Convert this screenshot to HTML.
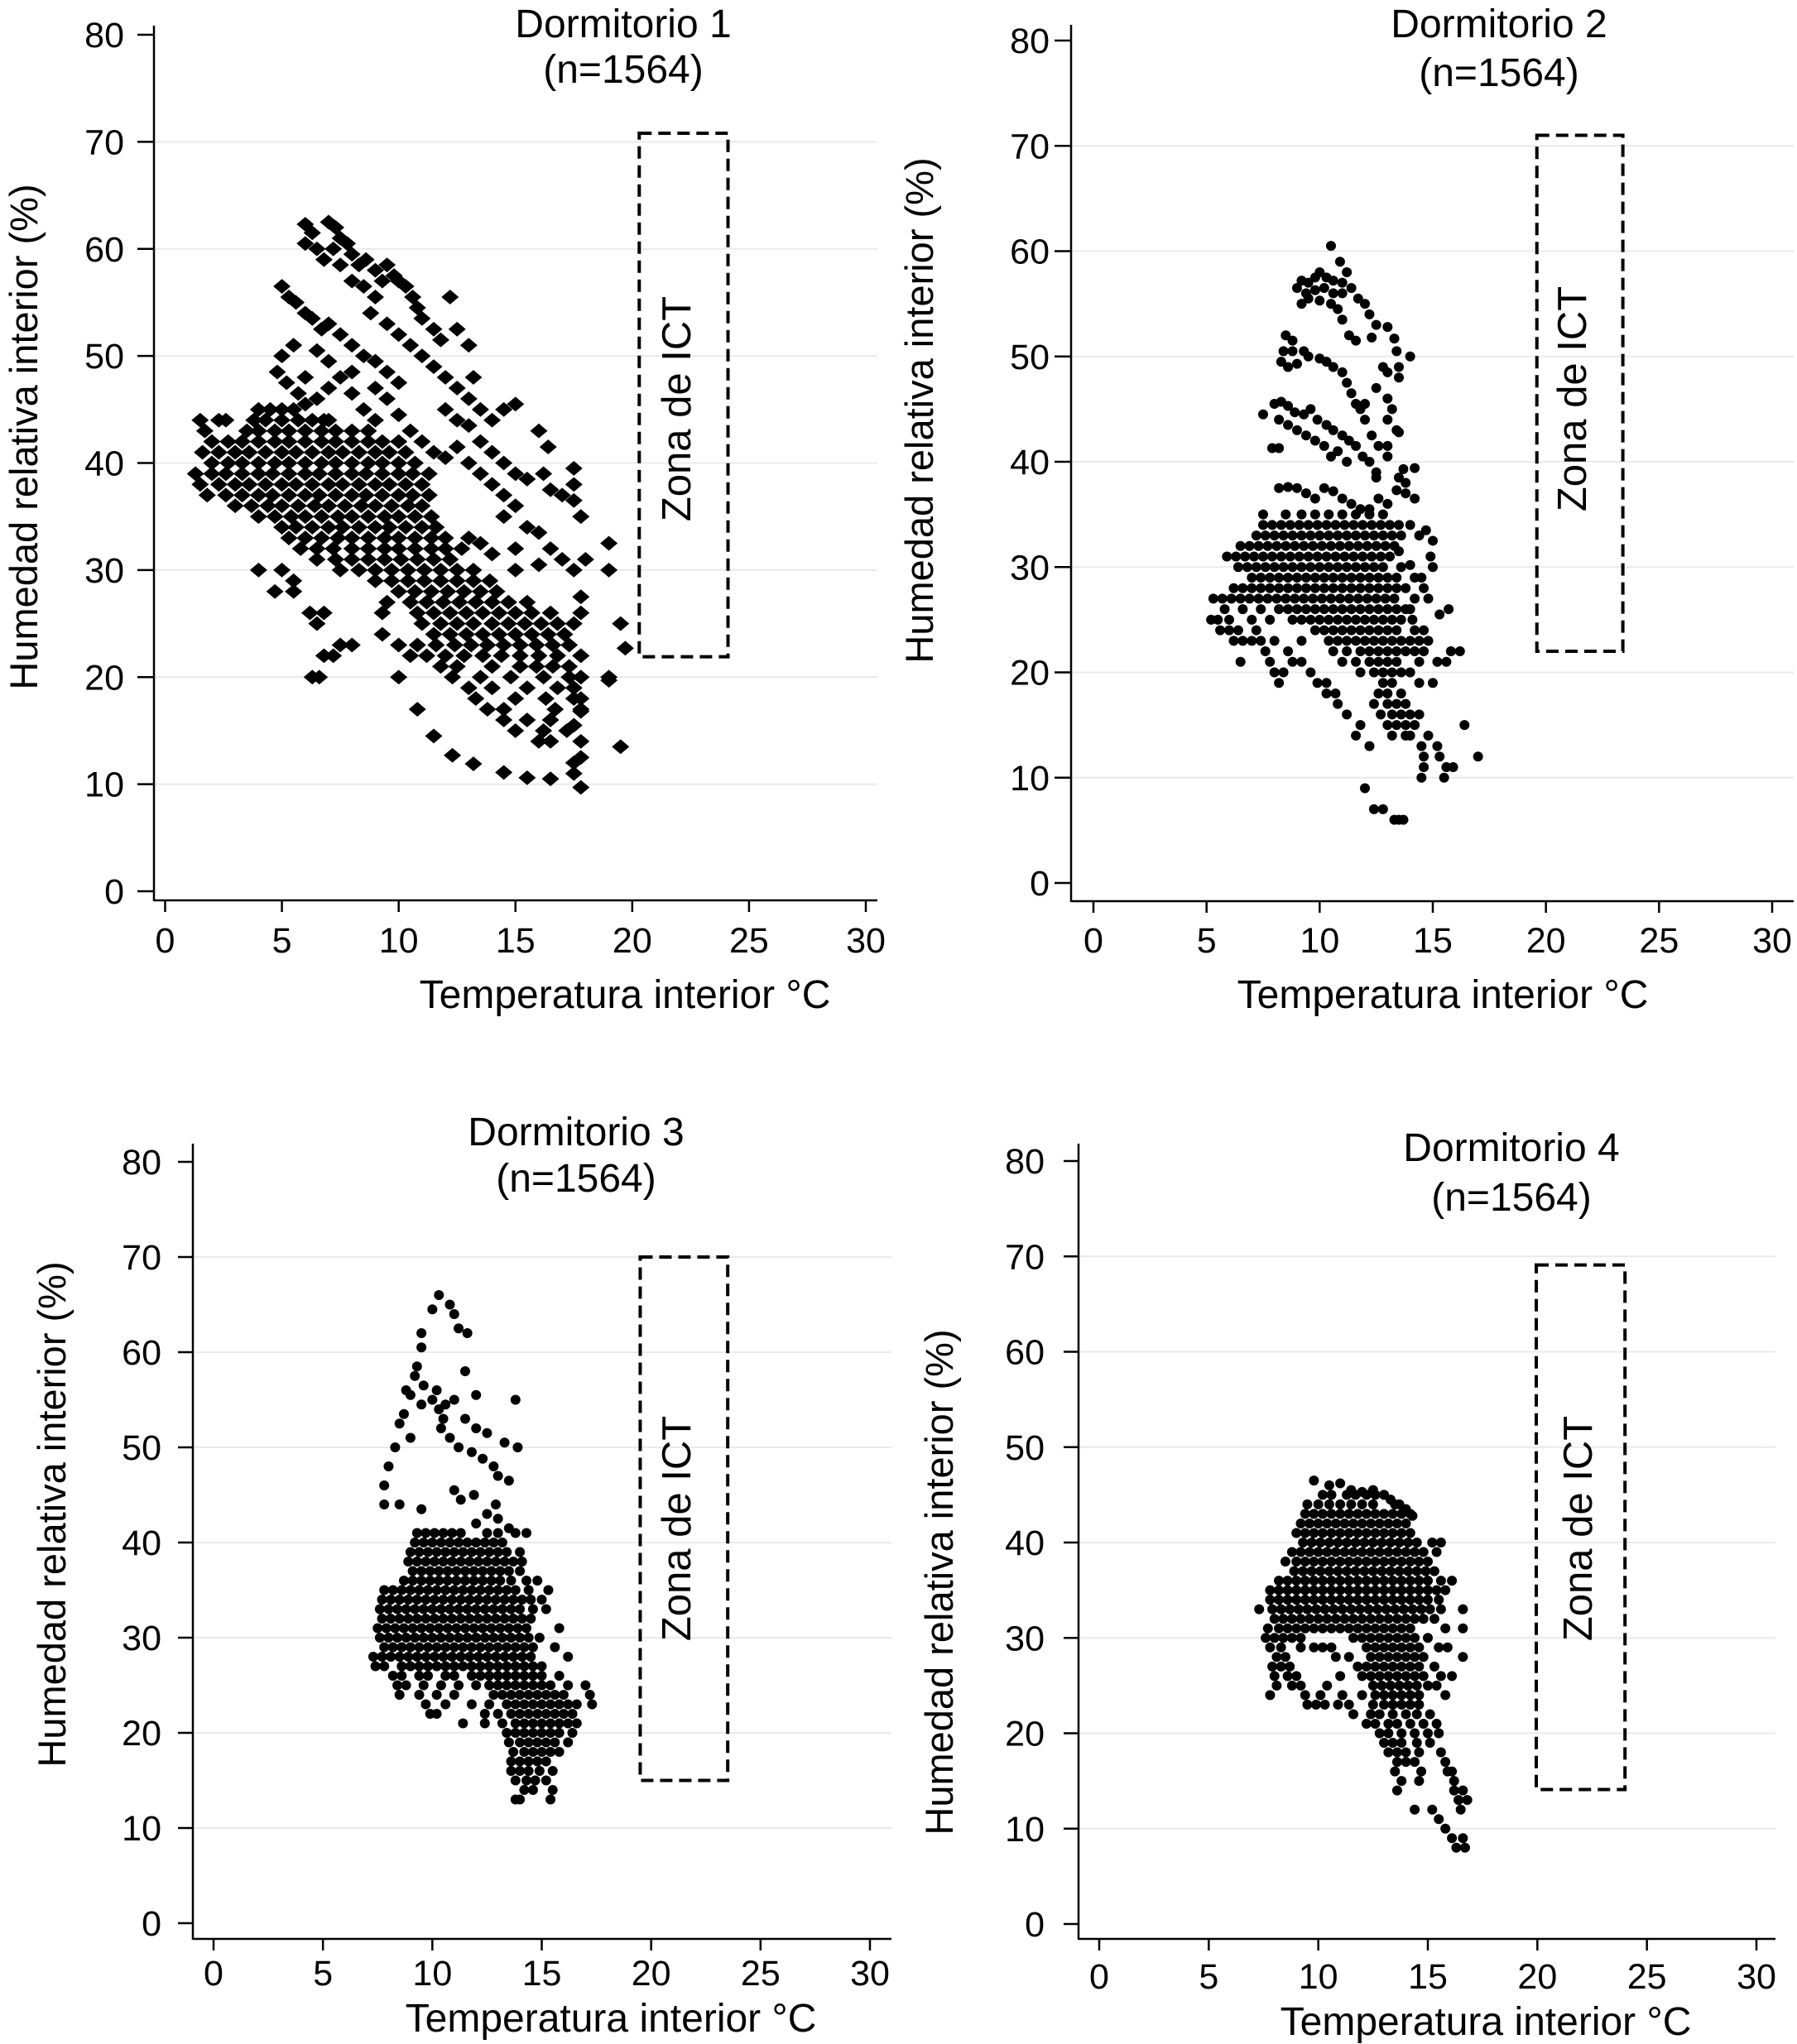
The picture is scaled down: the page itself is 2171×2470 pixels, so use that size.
<!DOCTYPE html>
<html><head><meta charset="utf-8"><style>
html,body{margin:0;padding:0;background:#fff;}
svg{display:block;font-family:"Liberation Sans",Arial,sans-serif;}
</style></head><body>
<svg id="chart" width="2171" height="2470" viewBox="0 0 2171 2470" xmlns="http://www.w3.org/2000/svg"></svg>
<script>
// ---- data ----
const xTicks = [0,5,10,15,20,25,30];
const yTicks = [0,10,20,30,40,50,60,70,80];
const panelTitles = ["Dormitorio 1","Dormitorio 2","Dormitorio 3","Dormitorio 4"];
const panelN = ["(n=1564)","(n=1564)","(n=1564)","(n=1564)"];
const ictX = [[20.3,24.1],[19.6,23.4],[19.5,23.5],[19.95,24.0]];
const ictY = [[21.9,70.8],[22.0,71.0],[15.0,70.0],[14.1,69.1]];

// rows: [humidity, [temperatures...]]
const rows1 = [
[45,[4,4.5,5,5.5]],[44,[1.5,2.3,2.6,3.8,4.3,5,5.7,6.3,7]],[43,[1.7,3.5,4,4.7,5.3,6,6.7,7.3,8,8.7]],
[42,[2,2.7,3.3,4,4.7,5.3,6,6.7,7.3,8,8.7,9.3,10]],[41,[1.6,2.3,3,3.6,4.3,5,5.6,6.3,7,7.6,8.3,9,9.6,10.3]],
[40,[2,2.7,3.3,4,4.7,5.3,6,6.7,7.3,8,8.7,9.3,10,10.7]],[39,[1.3,2,2.6,3.3,4,4.6,5.3,6,6.6,7.3,8,8.6,9.3,10,10.6,11.3]],
[38,[1.5,2.3,3,3.6,4.3,5,5.6,6.3,7,7.6,8.3,9,9.6,10.3,11]],[37,[1.8,2.6,3.3,4,4.6,5.3,6,6.6,7.3,8,8.6,9.3,10,10.6,11.3]],
[36,[3,3.7,4.4,5,5.7,6.4,7,7.7,8.4,9,9.7,10.4,11]],[35,[4,4.7,5.4,6,6.7,7.4,8,8.7,9.4,10,10.7,11.4]],
[34,[5,5.6,6.3,7,7.6,8.3,9,9.6,10.3,11,11.6]],[33,[5.3,6,6.7,7.4,8,8.7,9.4,10,10.7,11.4,12]],
[32,[5.8,6.5,7.2,8,8.7,9.4,10,10.7,11.4,12,12.7]],[31,[6.5,7.3,8,8.7,9.4,10.1,10.8,11.5,12.2]],
[30,[4,5,7.5,8.3,9,9.7,10.4,11.1,11.8,12.5,13.2]],[29,[5.5,9,9.7,10.4,11.1,11.8,12.5,13.2,13.9]],
[28,[4.7,5.5,10,10.7,11.4,12.1,12.8,13.5,14.2]],[27,[9.5,10.5,11.2,11.9,12.6,13.3,14,14.7,15.5]],
[26,[6.2,6.8,9.3,10.8,11.5,12.2,12.9,13.6,14.3,15,15.7,16.5]],[25,[6.5,11,11.8,12.5,13.2,14,14.7,15.4,16.1,16.8,17.5]],
[24,[9.3,11.5,12.2,12.9,13.6,14.3,15,15.7,16.4,17.1]],[23,[7.5,8,10,10.8,11.6,12.4,13.1,13.8,14.5,15.2,15.9,16.6,17.3]],
[22,[6.8,7.2,10.5,11.2,12,12.8,13.6,14.4,15.2,16,16.8,17.8]],[21,[11.8,12.5,14,15.2,15.9,16.6,17.3]],
[20,[6.3,6.6,10,12.3,13.5,14.8,16.2,17.3,17.8,19]],[19,[13,14,15.5,16.8,17.5]],[18,[13.3,15,16.3,17.5]],
[17,[10.8,13.8,14.5,16.7,17.8]],[16,[14.5,15.5,16.5]],[15,[15,16.2,17.2]],[14,[16,16.5]]
];
const extra1 = [[6,62.3],[6.3,61.5],[6,60.5],[6.5,60],[7,62.5],[7.3,62],[7.5,61],[7.2,60],[7.8,60.5],[8,59.5],[8.3,58.5],[8.6,59],[9,58],[9.5,58.5],[9.8,57.5],[10,57],[10.3,56.5],[10.6,55.5],[10.8,54.5],[11,53.5],[11.5,52.5],[11.8,51.5],[12.2,55.5],[6.8,59],[7.5,58.5],[8,57],[8.5,56.5],[9,55.5],[9.3,57],[8.8,54],[9.5,53],[10,52],[10.5,51],[11,50],[11.5,49],[12,48],[12.5,47],[13,46],[13.5,45],[14,44],[12.5,52.5],[13,51],[13.2,48],[14.5,45],[15,45.5],[16,43],[16.4,41.5],
[5,56.5],[5.3,55.5],[5.6,55],[6,54],[6.3,53.5],[6.7,52.5],[7,53],[7.5,52],[8,51],[8.5,50],[9,49.5],[9.5,48.5],[10,47.5],[6.5,50.5],[5.5,51],[5,50],[4.8,48.5],[5.2,47.5],[5.7,46.5],[6,45.5],[6.5,46],[7,47],[7.5,48],[8,46.5],[8.5,45],[9,44],[9.5,46],[10,44.5],[10.5,43],[11,42],[11.5,41],[12,40.5],[12.5,41.5],[13,40],[13.5,39],[14,38],[14.5,37],[7,49.5],[8,48.5],[9,47],[6,48],[6.8,44],
[12,45],[12.5,44],[13,43.5],[13.5,42],[14,41],[14.5,40],[15,39],[15.5,38.5],[16.2,39],[17.5,39.5],[17.5,38],[17,37],[17.5,36.5],[17.8,35],[16.5,37.5],[15,36],[14.5,35],[13,33],[13.5,32.5],[14,31.5],[15,32],[15.5,34],[16,33.5],[16.5,32],[17,31],[17.5,30],[18,31],[16,30.5],[15,30],[17.8,27.5],[17.8,26],[17.8,22],[17.8,20],[17.8,18],[17.8,16.8],[17.8,14],[17.8,12.5],[17.5,12],[17.5,11],[11.5,14.5],[12.3,12.7],[13.2,11.9],[14.5,11.1],[15.5,10.6],[16.5,10.5],[17.8,9.7],[19.5,13.5],[19.7,22.7],[19.5,25],[19,30],[19,32.5],[19,19.7],[17.5,15.5]];

const rows2 = [
[35,[7.5,8.5,9.2,9.8,10.4,11,11.6,12.2,12.8]],
[34,[7.5,7.9,8.3,8.7,9.1,9.5,9.9,10.3,10.7,11.1,11.5,11.9,12.3,12.7,13.1,13.5,14]],
[33,[7.2,7.6,8,8.4,8.8,9.2,9.6,10,10.4,10.8,11.2,11.6,12,12.4,12.8,13.2,13.6,14.4]],
[32,[6.5,6.9,7.3,7.7,8.1,8.5,8.9,9.3,9.7,10.1,10.5,10.9,11.3,11.7,12.1,12.5,12.9,13.3]],
[31,[5.9,6.3,6.7,7.1,7.5,7.9,8.3,8.7,9.1,9.5,9.9,10.3,10.7,11.1,11.5,11.9,12.3,12.7,13.1,14.9]],
[30,[6.4,6.8,7.2,7.6,8,8.4,8.8,9.2,9.6,10,10.4,10.8,11.2,11.6,12,12.4,12.8,13.6,15]],
[29,[7,7.4,7.8,8.2,8.6,9,9.4,9.8,10.2,10.6,11,11.4,11.8,12.2,12.6,13,13.4,14.2]],
[28,[6.2,6.6,7,7.4,7.8,8.2,8.6,9,9.4,9.8,10.2,10.6,11,11.4,11.8,12.2,12.6,13,13.4,13.8,14.6]],
[27,[5.3,5.7,6.1,6.5,6.9,7.3,7.7,8.1,8.5,8.9,9.3,9.7,10.1,10.5,10.9,11.3,11.7,12.1,12.5,12.9,13.3,14.8]],
[26,[5.8,6.6,7.4,8.2,8.6,9,9.4,9.8,10.2,10.6,11,11.4,11.8,12.2,12.6,13,13.4,13.8,14,15.7]],
[25,[5.2,5.5,6,7,7.8,8.8,9.2,9.6,10,10.4,10.8,11.2,11.6,12,12.4,12.8,13.2,13.6,14.1]],
[24,[5.6,6,6.4,7.2,9.8,10.2,10.6,11,11.4,11.8,12.2,12.6,13,13.4,14.2,14.6]],
[23,[6.2,6.6,7,7.4,8,9.2,10.4,10.8,11.2,11.6,12,12.4,12.8,13.2,13.6,14,14.4,14.8]],
[22,[7.6,8.6,10.6,11.2,11.8,12.2,12.6,13,13.4,13.8,14.2,14.6,15.8,16.2]],
[21,[6.5,7.8,8.8,9.2,11,11.6,12.2,12.6,13,13.4,14.4,15.2,15.6]],
[20,[8,8.4,9.6,11.8,12.4,12.8,13.2,13.6,14]],[19,[8.2,9.9,10.3,12.8,13.2,14.4,15]],
[18,[10.3,10.7,12.6,13,13.6]],[17,[10.8,12.4,13,13.4,13.8]],[16,[11.2,12.7,13.2,13.6,14,14.4]],
[15,[11.8,13,13.4,13.8,14.2,16.4]],[14,[11.6,13.2,13.8,14,14.8]],[13,[12.2,14.5,15.2]],
[12,[14.6,15.3,17]],[11,[14.6,15.6,15.9]],[10,[14.5,15.5]],[9,[12]],[7,[12.4,12.8]],[6,[13.3,13.7,13.5]]
];
const extra2 = [[10.5,60.5],[10.9,59],[11.2,58],[9.2,57.2],[9.5,57],[9.8,57.5],[10,58],[10.3,57.5],[10.6,57.2],[11,57],[9,56.5],[9.4,56],[9.8,56.3],[10.2,56.5],[10.6,56],[11,56],[11.4,56.5],[11.7,55.5],[12,55],[9.5,55.5],[10,55.3],[10.5,55],[9.2,55],[10.8,54.5],[11,53.5],[12.2,54],[12.5,53],[11.3,52],[11.6,51.5],[12.3,51.8],[13,52.8],[13.3,51.7],[13.4,50.5],[14,50],[13.5,49],[13.5,48],[13,48.5],[12.8,49],[12.5,47],[13,46],[13.2,45],[13,44],[13.4,43],[12,45.5],
[8.5,52],[8.8,51.5],[8.4,50.5],[8.3,49.5],[8.6,49],[9,49.3],[9.5,50],[10,49.8],[10.3,49.5],[10.6,49],[11,48.5],[11.2,47.5],[11.4,46.5],[11.6,45.5],[11.8,45],[12,44],[8.8,50.5],[9.3,50.5],
[7.5,44.5],[8,45.5],[8.3,45.7],[8.6,45.3],[8.9,44.7],[9.3,44.5],[9.6,45],[9.9,44],[10.3,43.5],[10.6,43],[11,42.5],[11.3,42],[11.6,41.5],[11.9,40.5],[12.2,40],[12.5,39],[8.2,44],[8.6,43.5],[9,43],[9.4,42.5],[9.8,42],[10.2,41.5],[10.5,40.5],[10.8,41],[11.2,40],[7.9,41.3],[8.2,41.3],[12.3,42.5],[12.6,41.5],[13,40.5],
[8.2,37.5],[8.6,37.6],[9,37.5],[9.4,37],[9.8,36.5],[10.2,37.5],[10.6,37.2],[11,36.5],[11.4,36],[11.8,35.5],[12.2,35.5],[12.6,36.5],[13,36],[13.4,37.3],[13.8,37],[14.2,36.5],[13.5,38.5],[13.8,38],[12.5,38.5],
[14.7,33.5],[15,32.5],[13.5,31.5],[14,30.2],[14.5,29],[14.2,27],[15.3,25.5],[13.7,39.3],[14.2,39.4],[13,41.5],[13.5,42.8]];

const rows3 = [
[41,[9.3,9.7,10.1,10.5,10.9,11.3,12.5,13,13.8,14.3]],[40,[9.2,9.6,10,10.4,10.8,11.2,11.6,12,12.4,12.8,13.2]],
[39,[9,9.4,9.8,10.2,10.6,11,11.4,11.8,12.2,12.6,13,13.4,14]],[38,[8.9,9.3,9.7,10.1,10.5,10.9,11.3,11.7,12.1,12.5,12.9,13.3,13.7,14.1]],
[37,[9.1,9.5,9.9,10.3,10.7,11.1,11.5,11.9,12.3,12.7,13.1,13.5,14]],[36,[8.7,9.1,9.5,9.9,10.3,10.7,11.1,11.5,11.9,12.3,12.7,13.1,13.6,14.3,14.8]],
[35,[7.8,8.2,8.6,9,9.4,9.8,10.2,10.6,11,11.4,11.8,12.2,12.6,13,13.4,13.8,14.4,15.3]],
[34,[7.7,8.1,8.5,8.9,9.3,9.7,10.1,10.5,10.9,11.3,11.7,12.1,12.5,12.9,13.3,13.7,14.1,14.5,15]],
[33,[7.6,8,8.4,8.8,9.2,9.6,10,10.4,10.8,11.2,11.6,12,12.4,12.8,13.2,13.6,14,14.6,15.2]],
[32,[7.7,8.1,8.5,8.9,9.3,9.7,10.1,10.5,10.9,11.3,11.7,12.1,12.5,12.9,13.3,13.7,14.1,14.5]],
[31,[7.5,7.9,8.3,8.7,9.1,9.5,9.9,10.3,10.7,11.1,11.5,11.9,12.3,12.7,13.1,13.5,13.9,14.3,15.8]],
[30,[7.6,8,8.4,8.8,9.2,9.6,10,10.4,10.8,11.2,11.6,12,12.4,12.8,13.2,13.6,14,14.4,14.9]],
[29,[7.8,8.2,8.6,9,9.4,9.8,10.2,10.6,11,11.4,11.8,12.2,12.6,13,13.4,13.8,14.2,14.6,15.6]],
[28,[7.3,7.7,8.1,8.5,8.9,9.3,9.7,10.1,10.5,10.9,11.3,11.7,12.1,12.5,12.9,13.3,13.7,14.1,14.5,16.2]],
[27,[7.4,7.8,8.6,9,9.4,9.8,10.2,10.6,11,11.4,11.8,12.2,12.6,13,13.4,13.8,14.2,14.6,15]],
[26,[8.2,8.6,9.4,9.8,10.6,11,11.8,12.2,12.6,13,13.4,13.8,14.2,14.6,15,15.8]],
[25,[8.4,8.8,9.6,10.4,11.2,12,12.6,13,13.4,13.8,14.2,14.6,15,15.4,16.2,17]],
[24,[8.5,9.4,10.2,11,12.8,13.2,13.6,14,14.4,14.8,15.2,15.6,16,17.2]],
[23,[9.7,10.6,11.8,12.6,13.4,13.8,14.2,14.6,15,15.4,15.8,16.2,16.6,17.3]],
[22,[9.9,10.2,12.4,13,13.6,14,14.4,14.8,15.2,15.6,16,16.4]],[21,[11.4,12.4,13.2,13.8,14.2,14.6,15,15.4,15.8,16.2,16.6]],
[20,[13.4,13.8,14.2,14.6,15,15.4,15.8,16.4]],[19,[13.5,14,14.4,14.8,15.2,15.6,16.2]],[18,[13.7,14.2,14.6,15,15.4,15.8]],
[17,[13.6,14,14.4,14.8,15.2]],[16,[13.6,14,14.4,14.9,15.5]],[15,[13.8,14.3,14.7,15.2]],[14,[14.2,14.6,15.5]],[13,[13.8,14,15.4]]
];
const extra3 = [[10.3,66],[10,64.5],[9.5,62],[9.5,60.5],[9.3,58.5],[8.8,56],[9,55.5],[9.5,54.5],[10,55],[10.3,54],[8.5,52.5],[8.3,50],[8,48],[7.8,46],[7.8,44],[8.5,44],[9.5,43.5],[10.8,65],[11,64],[11.2,62.5],[11.6,62],[11.5,58],[12,55.5],[11,55],[10.5,53],[11.5,53],[12,52],[12.5,51.5],[10.8,51],[11.2,50],[11.8,49.5],[12.3,48.8],[12.8,48],[13,47],[13.5,46.5],[13.3,50.5],[13.9,50],[13.8,55],[12.5,43],[13,42.5],[13.5,41.5],[11,45.5],[11.3,44.5],[11.9,45],[12,42],[9.2,57.5],[9.6,56.5],[10.2,56],[10.6,54.5],[9,51],[8.7,53.5],[10.4,52],[12.9,44]];

const rows4 = [
[45,[10.2,10.6,11.3,11.7,12.2,12.6,13]],[44,[9.5,10,10.5,11,11.5,12,12.5,13.5]],
[43,[9.4,9.8,10.2,10.6,11,11.4,11.8,12.2,12.6,13,13.4,13.8,14.2]],[42,[9.2,9.6,10,10.4,10.8,11.2,11.6,12,12.4,12.8,13.2,13.6,14]],
[41,[9,9.4,9.8,10.2,10.6,11,11.4,11.8,12.2,12.6,13,13.4,13.8,14.2]],
[40,[9.3,9.7,10.1,10.5,10.9,11.3,11.7,12.1,12.5,12.9,13.3,13.7,14.1,14.5,15.2,15.6]],
[39,[8.8,9.2,9.6,10,10.4,10.8,11.2,11.6,12,12.4,12.8,13.2,13.6,14,14.4,14.8,15.4]],
[38,[8.5,9,9.4,9.8,10.2,10.6,11,11.4,11.8,12.2,12.6,13,13.4,13.8,14.2,14.6,15]],
[37,[8.9,9.3,9.7,10.1,10.5,10.9,11.3,11.7,12.1,12.5,12.9,13.3,13.7,14.1,14.5,14.9,15.3]],
[36,[8.2,8.6,9,9.4,9.8,10.2,10.6,11,11.4,11.8,12.2,12.6,13,13.4,13.8,14.2,14.6,15,15.6,16.1]],
[35,[7.8,8.2,8.6,9,9.4,9.8,10.2,10.6,11,11.4,11.8,12.2,12.6,13,13.4,13.8,14.2,14.6,15,15.4,15.8]],
[34,[7.8,8.2,8.6,9,9.4,9.8,10.2,10.6,11,11.4,11.8,12.2,12.6,13,13.4,13.8,14.2,14.6,15,15.5]],
[33,[7.3,7.9,8.3,8.7,9.1,9.5,9.9,10.3,10.7,11.1,11.5,11.9,12.3,12.7,13.1,13.5,13.9,14.3,14.7,15.1,15.6,16.6]],
[32,[8,8.4,8.8,9.2,9.6,10,10.4,10.8,11.2,11.6,12,12.4,12.8,13.2,13.6,14,14.4,14.8,15.3]],
[31,[7.7,8.2,8.6,9,9.4,9.8,10.2,10.6,11,11.4,11.8,12.2,12.6,13,13.4,13.8,14.2,15.8,16.6]],
[30,[7.6,8,8.4,8.8,9.2,11.6,12,12.4,12.8,13.2,13.6,14,14.4,15]],
[29,[7.8,8.3,9.2,9.8,10.2,10.6,12.2,12.6,13,13.4,13.8,14.2,14.6,15.5,15.9]],
[28,[8.1,8.5,10.8,11.4,12.4,12.8,13.2,13.6,14,14.4,14.8,16.6]],
[27,[7.9,8.3,8.7,11.8,12.2,12.6,13,13.4,13.8,14.2,14.6,15.3]],
[26,[8,8.6,9,11,12,12.4,12.8,13.2,13.6,14,14.4,14.8,15.6,16.1]],
[25,[8.1,8.8,9.2,10.4,12.5,12.9,13.3,13.7,14.1,14.5,15,15.4]],
[24,[7.8,9.4,10.1,11.1,12,12.6,13,13.4,13.8,14.2,14.6,15.8]],
[23,[9.5,9.9,10.3,10.9,11.4,12.5,13,13.4,13.8,14.2,14.6]],
[22,[11.6,12.4,12.8,13.4,14,14.5,15.1]],[21,[12.2,12.6,13.2,13.6,14.2,14.8,15.4]],[20,[12.8,13.2,13.8,14.4,15,15.5]],
[19,[13,13.4,13.8,14.5,15.1]],[18,[13.2,13.6,14,14.6,15.6]],[17,[13.6,14,14.4,15.8]],[16,[13.5,14.7,15.9,16.1]],
[15,[13.8,14.6,16.2]],[14,[13.6,16.2,16.6]],[13,[16.4,16.8]],[12,[14.4,15.2,16.5]],[11,[15.5]],[10,[15.8]],[9,[16.1,16.6]],[8,[16.3,16.7]]
];
const extra4 = [[9.8,46.5],[10.5,46],[11,46.2],[11.5,45.5],[12,45.3],[12.5,45.5],[13,45],[13.3,44.5],[13.7,44],[14,43.5],[14.3,42.8]];

const allRows = [rows1,rows2,rows3,rows4];
const allExtra = [extra1,extra2,extra3,extra4];

// ---- layout (pixel geometry, not data) ----
const L = [
 {ax:186,yTop:31,y80:42,y0:1077,xAy:1088,x0:199.5,x30:1046,right:1060,tickL:166,labR:150,xLabY:1136,tx:753,t1:28,t2:83,ytx:28,yty:528,xtx:755,xty:1201,zx:817,zy:494,ms:10.5,shape:'d'},
 {ax:1294,yTop:30,y80:49,y0:1067,xAy:1089,x0:1321,x30:2141,right:2167,tickL:1274,labR:1268,xLabY:1136,tx:1811,t1:28,t2:87,ytx:1110,yty:496,xtx:1743,xty:1201,zx:1899,zy:482,ms:6,shape:'c'},
 {ax:233,yTop:1382,y80:1404,y0:2324,xAy:2343,x0:258,x30:1051,right:1077,tickL:215,labR:195,xLabY:2384,tx:696,t1:1367,t2:1423,ytx:62,yty:1830,xtx:738,xty:2438,zx:817,zy:1847,ms:6,shape:'c'},
 {ax:1303,yTop:1382,y80:1403,y0:2325,xAy:2343,x0:1328,x30:2122,right:2145,tickL:1285,labR:1262,xLabY:2388,tx:1826,t1:1386,t2:1446,ytx:1134,yty:1912,xtx:1795,xty:2442,zx:1906,zy:1847,ms:6,shape:'c'}
];

const NS="http://www.w3.org/2000/svg";
const svg=document.getElementById('chart');
function mk(tag,attrs,parent){const e=document.createElementNS(NS,tag);for(const k in attrs)e.setAttribute(k,attrs[k]);(parent||svg).appendChild(e);return e;}

L.forEach((g,i)=>{
  const grp=mk('g',{});
  
  
  const sx=v=>g.x0+(g.x30-g.x0)*v/30;
  const sy=v=>g.y0-(g.y0-g.y80)*v/80;
  yTicks.forEach(t=>{ if(t===0||t===80) return;
    const l=mk('line',{x1:g.ax,x2:g.right,y1:sy(t),y2:sy(t),stroke:'#e4ecee','stroke-width':2},grp);
    
    
  });
  const ya=mk('line',{x1:g.ax,x2:g.ax,y1:g.yTop,y2:g.xAy+1,stroke:'#000','stroke-width':2.5},grp);
  
  
  const xa=mk('line',{x1:g.ax,x2:g.right,y1:g.xAy,y2:g.xAy,stroke:'#000','stroke-width':2.5},grp);
  
  
  yTicks.forEach(t=>{
    mk('line',{x1:g.tickL,x2:g.ax,y1:sy(t),y2:sy(t),stroke:'#000','stroke-width':2.5},grp);
    const tx=mk('text',{x:g.labR,y:sy(t)+15,'text-anchor':'end','font-size':43,fill:'#000'},grp);
    tx.textContent=t;
    
    
  });
  xTicks.forEach(t=>{
    mk('line',{x1:sx(t),x2:sx(t),y1:g.xAy,y2:g.xAy+14,stroke:'#000','stroke-width':2.5},grp);
    const tx=mk('text',{x:sx(t),y:g.xLabY+15,'text-anchor':'middle','font-size':43,fill:'#000'},grp);
    tx.textContent=t;
    
    
  });
  const t1=mk('text',{x:g.tx,y:g.t1+17,'text-anchor':'middle','font-size':48},grp);
  t1.textContent=panelTitles[i];
  
  
  const t2=mk('text',{x:g.tx,y:g.t2+17,'text-anchor':'middle','font-size':48},grp);
  t2.textContent=panelN[i];
  
  
  const yt=mk('text',{x:0,y:0,'text-anchor':'middle','font-size':47,transform:`translate(${g.ytx+17},${g.yty}) rotate(-90)`},grp);
  yt.textContent='Humedad relativa interior (%)';
  
  
  const xt=mk('text',{x:g.xtx,y:g.xty+17,'text-anchor':'middle','font-size':48},grp);
  xt.textContent='Temperatura interior °C';
  
  
  const bx=sx(ictX[i][0]),bx2=sx(ictX[i][1]),by=sy(ictY[i][1]),by2=sy(ictY[i][0]);
  const r=mk('rect',{x:bx,y:by,width:bx2-bx,height:by2-by,fill:'none',stroke:'#000','stroke-width':4,'stroke-dasharray':'15 8'},grp);
  
  
  const zt=mk('text',{x:0,y:0,'text-anchor':'middle','font-size':49,transform:`translate(${g.zx+17},${g.zy}) rotate(-90)`},grp);
  zt.textContent='Zona de ICT';
  
  
  const pg=mk('g',{fill:'#000'},grp);
  
  
  const pts=[];
  allRows[i].forEach(([h,xs])=>xs.forEach(x=>pts.push([x,h])));
  allExtra[i].forEach(p=>pts.push(p));
  pts.forEach(([x,h])=>{
    const px=sx(x),py=sy(h),m=g.ms;
    let e;
    if(g.shape==='d') e=mk('path',{d:`M${px-m},${py}L${px},${py-m*0.85}L${px+m},${py}L${px},${py+m*0.85}Z`},pg);
    else e=mk('circle',{cx:px,cy:py,r:m},pg);
    
    
  });
});
</script>
</body></html>
